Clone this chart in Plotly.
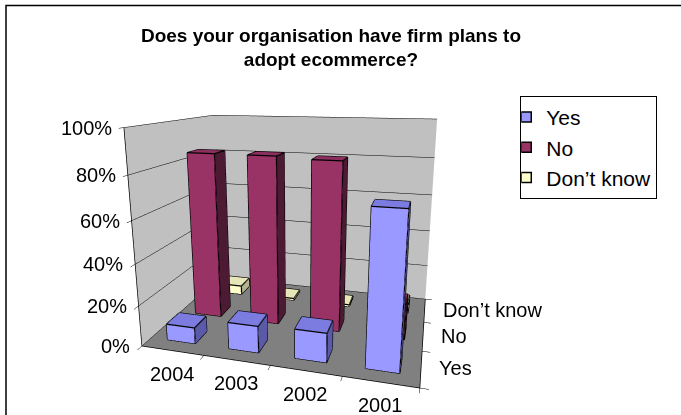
import plotly.graph_objects as go

# Survey answers per year (share of respondents, %)
years = ["2004", "2003", "2002", "2001"]
answers = ["Yes", "No", "Don\u2019t know"]
yes_pct = [8, 13, 14, 71]
no_pct = [85, 85, 84, 18]
dont_know_pct = [5, 1, 1, 5]
pct_ticks = [0, 20, 40, 60, 80, 100]

series_values = [yes_pct, no_pct, dont_know_pct]
front_colors = ["#9999FF", "#993366", "#FFFFCC"]
top_colors = ["#7C7CE0", "#8C2E5E", "#E6E6B8"]
side_colors = ["#5A5AA8", "#4D1A33", "#B3B38F"]

BAR_W = 0.46   # bar width along the year axis
BAR_D = 0.42   # bar depth along the answer axis

FONT = "Liberation Sans, Arial, sans-serif"
TXT = dict(family=FONT, size=20, color="black")


def column_mesh(values, row, name, front, top, side):
    xs, ys, zs, ii, jj, kk, fc = [], [], [], [], [], [], []
    ex, ey, ez = [], [], []
    for col, v in enumerate(values):
        x0, x1 = col - BAR_W / 2, col + BAR_W / 2
        y0, y1 = row - BAR_D / 2, row + BAR_D / 2
        base = len(xs)
        corners = [(x0, y0, 0), (x1, y0, 0), (x1, y1, 0), (x0, y1, 0),
                   (x0, y0, v), (x1, y0, v), (x1, y1, v), (x0, y1, v)]
        for cx, cy, cz in corners:
            xs.append(cx); ys.append(cy); zs.append(cz)
        faces = [
            ((0, 1, 5), front), ((0, 5, 4), front),      # front
            ((1, 2, 6), side), ((1, 6, 5), side),        # right side
            ((4, 5, 6), top), ((4, 6, 7), top),          # top
            ((0, 3, 7), side), ((0, 7, 4), side),        # left side
            ((3, 2, 6), front), ((3, 6, 7), front),      # back
            ((0, 1, 2), side), ((0, 2, 3), side),        # bottom
        ]
        for (a, b, c), colr in faces:
            ii.append(base + a); jj.append(base + b); kk.append(base + c); fc.append(colr)
        edges = [(0, 1), (1, 2), (2, 3), (3, 0), (4, 5), (5, 6), (6, 7), (7, 4),
                 (0, 4), (1, 5), (2, 6), (3, 7)]
        for a, b in edges:
            ex += [corners[a][0], corners[b][0], None]
            ey += [corners[a][1], corners[b][1], None]
            ez += [corners[a][2], corners[b][2], None]
    mesh = go.Mesh3d(x=xs, y=ys, z=zs, i=ii, j=jj, k=kk, facecolor=fc,
                     flatshading=True, showlegend=False, hoverinfo="skip",
                     lighting=dict(ambient=1, diffuse=0, specular=0, roughness=1, fresnel=0))
    outline = go.Scatter3d(x=ex, y=ey, z=ez, mode="lines", showlegend=False,
                           hoverinfo="skip", line=dict(color="black", width=2.5))
    key = go.Scatter3d(x=[None], y=[None], z=[None], mode="markers", name=name,
                       legendgroup=name,
                       marker=dict(symbol="square", size=10, color=front,
                                   line=dict(color="black", width=1.5)))
    return [mesh, outline, key]


fig = go.Figure()
for row, (vals, name) in enumerate(zip(series_values, answers)):
    for tr in column_mesh(vals, row, name, front_colors[row], top_colors[row], side_colors[row]):
        fig.add_trace(tr)

n_x, n_y = len(years), len(answers)
x_lo, x_hi = -0.5, n_x - 0.5
y_lo, y_hi = -0.5, n_y - 0.5

# tick labels as flat text pinned to the 3D axes
labels = []
for v in pct_ticks:
    labels.append(dict(x=x_lo, y=y_lo, z=v, text=f"{v}%", showarrow=False,
                       xanchor="right", yanchor="middle", xshift=-10, font=TXT))
for i, yr in enumerate(years):
    labels.append(dict(x=i, y=y_lo, z=0, text=yr, showarrow=False,
                       xanchor="center", yanchor="top", yshift=-10, font=TXT))
for j, ans in enumerate(answers):
    labels.append(dict(x=x_hi, y=j, z=0, text=ans, showarrow=False,
                       xanchor="left", yanchor="middle", xshift=16, font=TXT))

axis_common = dict(title=dict(text=""), showspikes=False, showline=True, linecolor="black",
                   linewidth=1.5, ticks="outside", tickcolor="black", ticklen=6,
                   showticklabels=False, showbackground=True, zeroline=False)

fig.update_layout(
    width=681, height=415,
    margin=dict(l=0, r=0, t=0, b=0),
    paper_bgcolor="white",
    font=dict(family=FONT, color="black"),
    title=dict(text="<b>Does your organisation have firm plans to<br>adopt ecommerce?</b>",
               x=0.486, xanchor="center", y=0.9, yanchor="middle",
               font=dict(family=FONT, size=19, color="black")),
    legend=dict(x=0.764, y=0.769, xanchor="left", yanchor="top",
                bordercolor="black", borderwidth=1, bgcolor="white",
                font=dict(family=FONT, size=21, color="black"),
                itemwidth=30, tracegroupgap=0, indentation=-15),
    scene=dict(
        domain=dict(x=[0.097, 0.777], y=[0.0, 1.0]),
        xaxis=dict(axis_common, range=[x_lo, x_hi],
                   tickvals=[k + 0.5 for k in range(-1, n_x)],
                   showgrid=False, backgroundcolor="#C0C0C0"),
        yaxis=dict(axis_common, range=[y_lo, y_hi],
                   tickvals=[k + 0.5 for k in range(-1, n_y)],
                   showgrid=False, backgroundcolor="#C0C0C0"),
        zaxis=dict(axis_common, range=[0, 100], tickvals=pct_ticks,
                   showgrid=True, gridcolor="black", gridwidth=1,
                   backgroundcolor="#808080"),
        aspectmode="manual", aspectratio=dict(x=1.25, y=0.88, z=1.0),
        camera=dict(eye=dict(x=0.62, y=-2.27, z=0.675), center=dict(x=0, y=0, z=0.095),
                    projection=dict(type="perspective")),
        bgcolor="white",
        annotations=labels,
    ),
    shapes=[dict(type="rect", xref="paper", yref="paper",
                 x0=6 / 681, x1=1.05, y0=-0.05, y1=1 - 5.5 / 415,
                 line=dict(color="black", width=1.5), fillcolor="rgba(0,0,0,0)")],
)

fig.write_html("out.html", config=dict(displayModeBar=False))
